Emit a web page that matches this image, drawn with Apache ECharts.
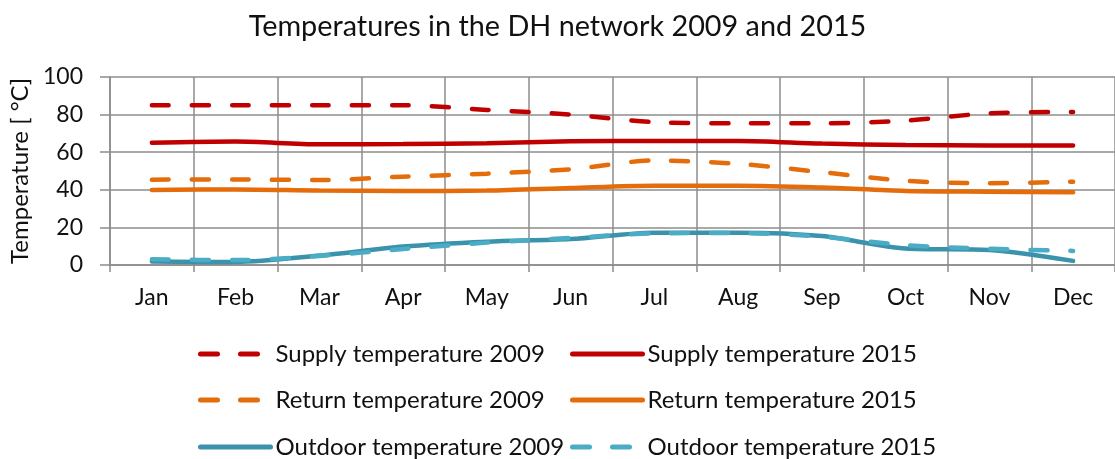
<!DOCTYPE html>
<html>
<head>
<meta charset="utf-8">
<script src="https://cdn.jsdelivr.net/npm/echarts@6/dist/echarts.min.js"></script>
<style>
    html, body { margin: 0; padding: 0; background: #fff; }
    #chart { width: 1115px; height: 459px; }
</style>
</head>
<body>
<div id="chart"></div>
<script>
const months = ["Jan", "Feb", "Mar", "Apr", "May", "Jun", "Jul", "Aug", "Sep", "Oct", "Nov", "Dec"];
const supply2009 = [85, 85, 85, 85, 82.5, 80, 76, 75.4, 75.4, 76.8, 80.7, 81.4];
const supply2015 = [65, 65.7, 64.2, 64.4, 64.8, 65.8, 66, 66, 64.6, 63.8, 63.6, 63.5];
const return2009 = [45.4, 45.5, 45.2, 47, 48.6, 50.9, 55.6, 53.8, 49.4, 44.8, 43.5, 44.3];
const return2015 = [39.9, 40.2, 39.6, 39.4, 39.6, 41, 42.2, 42.2, 41.2, 39.4, 39, 38.7];
const outdoor2009 = [1.8, 1.6, 5, 9.8, 12.4, 13.8, 17.2, 17.2, 15.4, 8.8, 8, 2.2];
const outdoor2015 = [3, 2.6, 4.8, 8.5, 11.9, 14.4, 16.8, 17, 15, 10.6, 8.6, 7.5];
const yTicks = [0, 20, 40, 60, 80, 100];

const chart = echarts.init(document.getElementById("chart"));
const font = "Lato";
const dash = [17, 23];

function lineSeries(name, data, color, dashed) {
    return {
        name,
        type: "line",
        data,
        smooth: 0.3,
        showSymbol: false,
        lineStyle: {
            color,
            width: 4.5,
            type: dashed ? dash : "solid",
            cap: "round"
        },
        itemStyle: {color}
    };
}

// one legend per entry so the two columns line up like the original
const legendRows = [
    ["Supply temperature 2009", "Supply temperature 2015"],
    ["Return temperature 2009", "Return temperature 2015"],
    ["Outdoor temperature 2009", "Outdoor temperature 2015"]
];
const rowTops = [342, 388, 435];
const legends = [];
legendRows.forEach((row, r) => {
    row.forEach((name, c) => {
        legends.push({
            data: [name],
            left: c === 0 ? 198 : 570,
            top: rowTops[r],
            padding: 0,
            itemWidth: 70,
            itemHeight: 22,
            itemStyle: {color: "rgba(0,0,0,0)", opacity: 0, borderWidth: 0},
            lineStyle: {width: 5, cap: "round"},
            textStyle: {fontFamily: font, fontSize: 24, color: "#111"}
        });
    });
});

chart.setOption({
    animation: false,
    title: {
        text: "Temperatures in the DH network 2009 and 2015",
        left: "center",
        top: 7,
        textStyle: {fontFamily: font, fontSize: 28.8, fontWeight: "normal", color: "#111"}
    },
    legend: legends,
    grid: {left: 110, right: -5, top: 77, bottom: 194},
    xAxis: {
        type: "category",
        data: months,
        boundaryGap: true,
        axisLine: {lineStyle: {color: "#8c8c8c", width: 1.5}},
        axisTick: {show: true, length: 7, interval: 0, lineStyle: {color: "#8c8c8c", width: 1.5}},
        splitLine: {show: true, interval: 0, lineStyle: {color: "#8c8c8c", width: 1.5}},
        axisLabel: {margin: 21, fontFamily: font, fontSize: 23, color: "#111", interval: 0}
    },
    yAxis: {
        type: "value",
        min: yTicks[0],
        max: yTicks[yTicks.length - 1],
        interval: 20,
        name: "Temperature [ °C]",
        nameLocation: "middle",
        nameGap: 76,
        nameTextStyle: {fontFamily: font, fontSize: 24, color: "#111"},
        axisLine: {show: true, lineStyle: {color: "#8c8c8c", width: 1.5}},
        axisTick: {show: true, length: 10, lineStyle: {color: "#8c8c8c", width: 1.5}},
        splitLine: {lineStyle: {color: "#8c8c8c", width: 1.5}},
        axisLabel: {margin: 27, fontFamily: font, fontSize: 23, color: "#111"}
    },
    series: [
        lineSeries("Supply temperature 2009", supply2009, "#C00000", true),
        lineSeries("Supply temperature 2015", supply2015, "#C00000", false),
        lineSeries("Return temperature 2009", return2009, "#E46C0A", true),
        lineSeries("Return temperature 2015", return2015, "#E46C0A", false),
        lineSeries("Outdoor temperature 2009", outdoor2009, "#3A93AB", false),
        lineSeries("Outdoor temperature 2015", outdoor2015, "#4BACC6", true)
    ]
});
</script>
</body>
</html>
